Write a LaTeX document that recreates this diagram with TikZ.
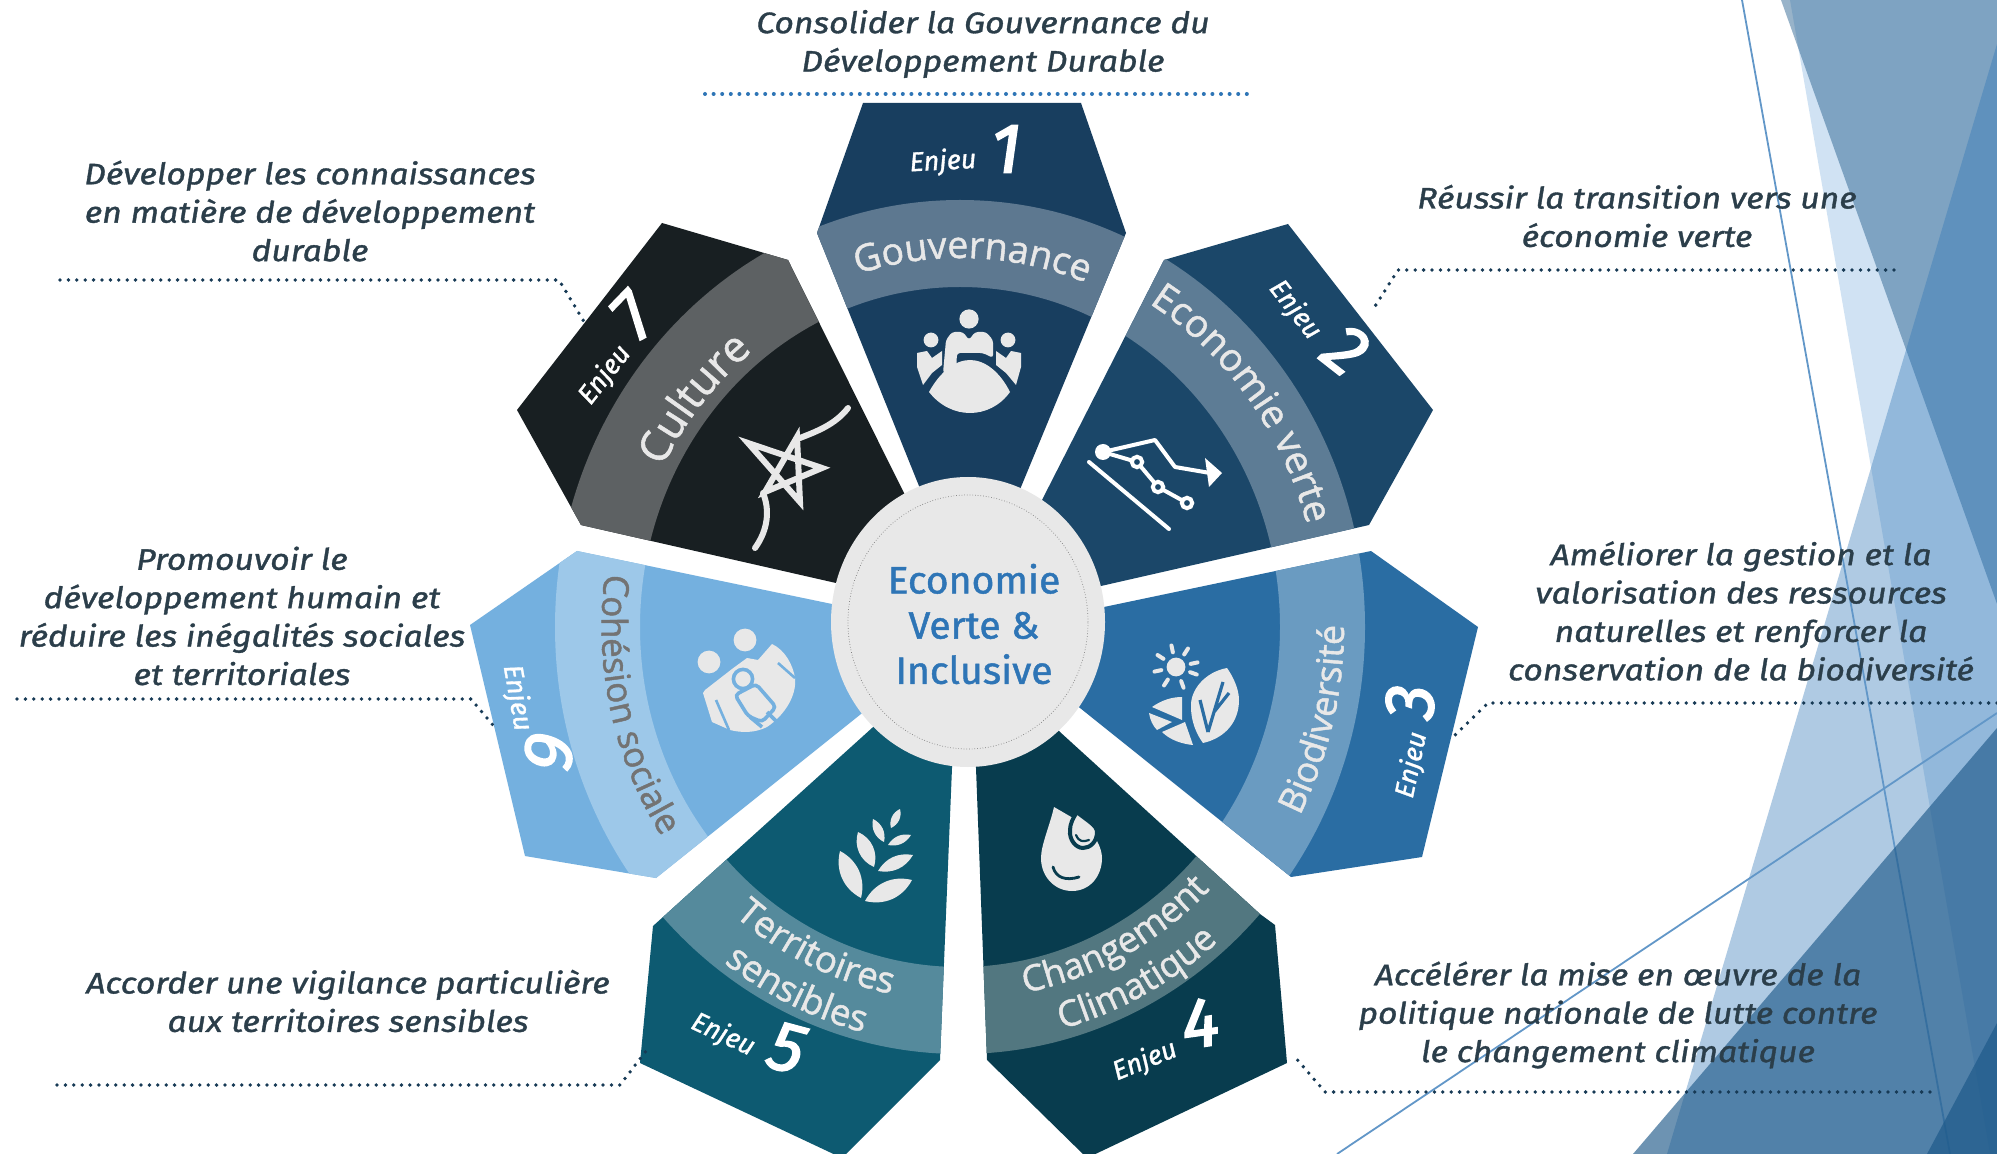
\documentclass[tikz,border=0pt]{standalone}
\usepackage{fontspec}
\usetikzlibrary{shapes.geometric,decorations.text,calc}
\setmainfont{Open Sans}
\newfontfamily\capfam[FakeStretch=1.14,FakeBold=1.2]{Fira Sans}
\newfontfamily\enjfam[FakeBold=1.2]{Fira Sans}
\newfontfamily\numfam[FakeBold=2.5]{Fira Sans}
\newfontfamily\bandfam[FakeBold=1.3]{Open Sans}
\newfontfamily\midfam[FakeBold=1.2,FakeStretch=1.03]{Fira Sans}
\definecolor{pa}{HTML}{183E5F}\definecolor{ba}{HTML}{5D7890}
\definecolor{pb}{HTML}{1B4769}\definecolor{bb}{HTML}{5D7C95}
\definecolor{pc}{HTML}{2A6DA3}\definecolor{bc}{HTML}{6A9BC1}
\definecolor{pd}{HTML}{083C4E}\definecolor{bd}{HTML}{527780}
\definecolor{pe}{HTML}{0D5A71}\definecolor{be}{HTML}{558A9C}
\definecolor{pf}{HTML}{74B0DF}\definecolor{bf}{HTML}{9DC8E9}
\definecolor{pg}{HTML}{181F22}\definecolor{bg}{HTML}{5D6163}
\definecolor{lite}{HTML}{E8E8E8}
\definecolor{captxt}{HTML}{2B3E4A}
\definecolor{leadblue}{HTML}{2E75B6}
\definecolor{leaddark}{HTML}{173A55}
\newcommand{\petal}[3]{%
  \fill[#2] #1;
  \begin{scope}\clip #1;
  \fill[#3,even odd rule] (C) ellipse[x radius=202.5pt,y radius=213.5pt] (C) ellipse[x radius=160pt,y radius=170pt];
  \end{scope}}
\newcommand{\arctext}[6]{% text,start,end,t,size,colour
  \pgfmathsetmacro\rxv{#4*0.474}\pgfmathsetmacro\ryv{#4*0.5}%
  \path[decorate,decoration={text along path,text align=center,text={|\fontsize{#5}{#5}\bandfam\color{#6}|#1}}]
    ([shift={(#2:\rxv pt and \ryv pt)}]C) arc[start angle=#2,end angle=#3,x radius=\rxv pt,y radius=\ryv pt];}
\newcommand{\leafshape}[3]{\fill[lite] #1 to[bend left=#3] #2 to[bend left=#3] #1 -- cycle;}
\tikzset{
  x=0.5pt,y=-0.5pt,
  caption/.style={font=\fontsize{14.8}{19.2}\selectfont\capfam\itshape,text=captxt,align=center,inner sep=0pt},
  enjeu/.style={font=\fontsize{13.5}{13.5}\selectfont\enjfam\itshape,text=white,inner sep=0pt},
  numeral/.style={font=\fontsize{35}{35}\selectfont\numfam\itshape,text=white,inner sep=0pt},
  leadb/.style={line width=2pt,line cap=round,dash pattern=on 0pt off 4.3pt,color=leadblue},
  leadd/.style={line width=1.9pt,line cap=round,dash pattern=on 0pt off 4.2pt,color=leaddark},
  thin line/.style={line width=0.9pt,color=leadblue!75!white},
  iconline/.style={line width=2pt,color=lite,line cap=round,line join=round}
}
\begin{document}
\begin{tikzpicture}
\clip (0,0) rectangle (1997,1154);
\fill[white] (0,0) rectangle (1997,1154);
\coordinate (C) at (960,627);
% background shapes
\fill[color={rgb,255:red,189;green,215;blue,238},opacity=.7] (1790,0) -- (1997,0) -- (1997,1154) -- (1990,1154) -- cycle;
\fill[color={rgb,255:red,31;green,90;blue,138},opacity=.46] (1781,0) -- (1997,0) -- (1997,604) -- cycle;
\fill[color=leadblue,opacity=.38] (1997,44) -- (1997,1154) -- (1667,1154) -- cycle;
\coordinate (la) at (1742,0); \coordinate (lb) at (1950,1154);
\coordinate (lc) at (1997,713); \coordinate (ld) at (1337,1154);
\draw[thin line] (la) -- (lb);
\draw[thin line] (lc) -- (ld);
\fill[color={rgb,255:red,31;green,90;blue,138},opacity=.65] (1997,728) -- (1997,1154) -- (1633,1154) -- cycle;
\fill[color={rgb,255:red,31;green,90;blue,138},opacity=.7] (1997,1023) -- (1997,1154) -- (1927,1154) -- cycle;
% petals
\petal{(863,103) -- (1081,103) -- (1126,233) -- (1021,487) -- (969,611) -- (919,486) -- (817,233) -- cycle}{pa}{ba}
\petal{(1164,260) -- (1288,224) -- (1433,410) -- (1369,525) -- (1101,586) -- (968,622) -- (1042,500) -- cycle}{pb}{bb}
\petal{(1104,607) -- (1371,551) -- (1478,627) -- (1422,857) -- (1291,877) -- (1080,708) -- (968,622) -- cycle}{pc}{bc}
\petal{(976,768) -- (987,1060) -- (1087,1158) -- (1287,1063) -- (1275,925) -- (1260,914) -- (1060,732) -- (968,640) -- cycle}{pd}{bd}
\petal{(952,768) -- (940,1060) -- (842,1158) -- (640,1063) -- (653,926) -- (663,917) -- (872,728) -- (968,640) -- cycle}{pe}{be}
\petal{(832,604) -- (577,551) -- (470,625) -- (525,856) -- (656,878) -- (861,714) -- (968,622) -- cycle}{pf}{bf}
\petal{(662,223) -- (788,260) -- (904,493) -- (968,622) -- (836,583) -- (581,525) -- (517,410) -- cycle}{pg}{bg}
% band texts
\arctext{Gouvernance}{128}{48}{369}{18.7}{lite}
\arctext{Economie verte}{81}{-6}{380}{19.2}{lite}
\arctext{Biodiversité}{-53}{25}{405}{18}{lite}
\arctext{Changement}{-100}{-25}{372}{18}{lite}
\arctext{Climatique}{-100}{-25}{416}{18}{lite}
\arctext{Territoires}{-150}{-80}{374}{18.3}{lite}
\arctext{sensibles}{-150}{-80}{418}{18.3}{lite}
\arctext{Cohésion sociale}{150}{236}{378}{17.6}{gray!90!black}
\arctext{Culture}{185}{95}{352}{21.5}{lite}
% centre
\node[ellipse,fill=lite,minimum width=137pt,minimum height=145pt,inner sep=0pt] (hub) at (968,622) {};
\draw[line width=0.35pt,color=black!45!lite,densely dotted] (968,622) ellipse[x radius=60pt,y radius=63.5pt];
\node[font=\fontsize{19}{22.6}\selectfont\midfam,text=leadblue,align=center,inner sep=0pt] (hubtxt) at (974,624) {Economie\\Verte \&\\Inclusive};
% enjeu labels
\node[enjeu,rotate=3] (e1) at (943,162) {Enjeu};
\node[numeral] (n1) at (1006,149) {1};
\node[enjeu,rotate=-52] (e2) at (1295,310) {Enjeu};
\node[numeral,rotate=-38] (n2) at (1346,350) {2};
\node[enjeu,rotate=78] (e3) at (1412,765) {Enjeu};
\node[numeral,rotate=88] (n3) at (1410,702) {3};
\node[enjeu,rotate=22] (e4) at (1145,1061) {Enjeu};
\node[numeral,rotate=8] (n4) at (1200,1023) {4};
\node[enjeu,rotate=-25] (e5) at (723,1035) {Enjeu};
\node[numeral,rotate=-15] (n5) at (787,1048) {5};
\node[enjeu,rotate=-80] (e6) at (517,698) {Enjeu};
\node[numeral,rotate=-100] (n6) at (549,751) {6};
\node[enjeu,rotate=52] (e7) at (605,375) {Enjeu};
\node[numeral,rotate=46] (n7) at (633,316) {7};
% captions
\node[caption] (c1) at (983,44) {Consolider la Gouvernance du\\Développement Durable};
\node[caption] (c2) at (1637,216) {Réussir la transition vers une\\économie verte};
\node[caption] (c3) at (1741,611) {Améliorer la gestion et la\\valorisation des ressources\\naturelles et renforcer la\\conservation de la biodiversité};
\node[caption] (c4) at (1618,1015) {Accélérer la mise en œuvre de la\\politique nationale de lutte contre\\le changement climatique};
\node[caption] (c5) at (348,1001) {Accorder une vigilance particulière\\aux territoires sensibles};
\node[caption] (c6) at (242,616) {Promouvoir le\\développement humain et\\réduire les inégalités sociales\\et territoriales};
\node[caption] (c7) at (310,211) {Développer les connaissances\\en matière de développement\\durable};
% leaders
\coordinate (a1) at (705,94); \coordinate (a2) at (1249,94);
\draw[leadb] (a1) -- (a2);
\coordinate (b1) at (1894,270); \coordinate (b2) at (1398,270); \coordinate (b3) at (1372,311);
\draw[leadd] (b1) -- (b2) -- (b3);
\coordinate (d1) at (1997,703); \coordinate (d2) at (1488,703); \coordinate (d3) at (1452,738);
\draw[leadd] (d1) -- (d2) -- (d3);
\coordinate (f1) at (1930,1092); \coordinate (f2) at (1325,1092); \coordinate (f3) at (1295,1057);
\draw[leadd] (f1) -- (f2) -- (f3);
\coordinate (g1) at (57,1085); \coordinate (g2) at (620,1085); \coordinate (g3) at (646,1051);
\draw[leadd] (g1) -- (g2) -- (g3);
\coordinate (h1) at (17,699); \coordinate (h2) at (471,699); \coordinate (h3) at (497,730);
\draw[leadd] (h1) -- (h2) -- (h3);
\coordinate (i1) at (60,280); \coordinate (i2) at (559,280); \coordinate (i3) at (586,325);
\draw[leadd] (i1) -- (i2) -- (i3);
% icon 1: meeting
\fill[lite] (969,319) circle[radius=4.8pt] (931,340) circle[radius=3.7pt] (1008,340) circle[radius=3.7pt];
\fill[lite,rounded corners=1.5pt] (943,373) -- (946,340) -- (952,332) -- (963,332) -- (969,340) -- (975,332) -- (986,332) -- (993,340) -- (993,358) -- (983,353) -- (957,353) -- (956,373) -- (950,377) -- cycle;
\fill[lite] (917,353) -- (927,351) -- (932,358) -- (942,351) -- (942,365) -- (932,373) -- (923,385) -- (917,367) -- cycle;
\fill[lite] (1021,353) -- (1011,351) -- (1006,358) -- (996,351) -- (996,365) -- (1006,373) -- (1016,385) -- (1021,367) -- cycle;
\fill[lite] (929,392) .. controls (940,372) and (955,360) .. (970,360) .. controls (985,360) and (1000,372) .. (1010,392) .. controls (1000,406) and (985,413) .. (970,413) .. controls (955,413) and (940,406) .. (929,392) -- cycle;
% icon 2: chart
\draw[iconline,color=white] (1089,462) -- (1169,529);
\draw[iconline,color=white] (1103,452) -- (1155,440) -- (1175,467) -- (1210,473);
\fill[white] (1222,473) -- (1205,458) -- (1209,487) -- cycle;
\draw[iconline,color=white] (1103,452) -- (1137,462) -- (1158,487) -- (1187,503);
\fill[white] (1103,452) circle[radius=4pt];
\filldraw[fill=pb,draw=white,line width=2pt] (1137,462) circle[radius=2.6pt] (1158,487) circle[radius=2.6pt] (1187,503) circle[radius=2.6pt];
% icon 3: sun and leaf
\fill[lite] (1176,667) circle[radius=4.7pt];
\foreach \r in {12,57,102,147,192,237,290,340}{\draw[line width=2pt,line cap=round,color=lite] ($(1176,667)+(\r:7.5pt)$) -- ($(1176,667)+(\r:11pt)$);}
\fill[lite] (1227,668) .. controls (1205,672) and (1190,690) .. (1191,707) .. controls (1191,722) and (1197,735) .. (1203,743) .. controls (1225,738) and (1239,722) .. (1239,700) .. controls (1239,688) and (1232,675) .. (1227,668) -- cycle;
\draw[line width=1.6pt,color=pc] (1208,732) -- (1223,682) (1208,732) -- (1200,700) (1214,712) -- (1229,693);
\fill[lite] (1152,707) .. controls (1162,700) and (1172,697) .. (1182,697) -- (1182,720) -- cycle;
\fill[lite] (1149,713) -- (1172,722) -- (1157,730) .. controls (1153,726) and (1150,720) .. (1149,713) -- cycle;
\fill[lite] (1162,732) -- (1185,722) -- (1193,745) .. controls (1182,744) and (1170,740) .. (1162,732) -- cycle;
% icon 4: drops
\fill[lite] (1054,807) .. controls (1050,825) and (1041,845) .. (1041,858) .. controls (1041,877) and (1055,891) .. (1072,891) .. controls (1090,891) and (1102,876) .. (1102,858) .. controls (1102,848) and (1095,835) .. (1085,825) -- cycle;
\filldraw[fill=lite,draw=pd,line width=2pt] (1077,812) .. controls (1086,820) and (1097,825) .. (1097,832) .. controls (1097,842) and (1090,848) .. (1083,848) .. controls (1076,848) and (1069,840) .. (1070,830) .. controls (1070,824) and (1073,818) .. (1077,812) -- cycle;
\draw[line width=1.4pt,line cap=round,color=pd] (1053,867) .. controls (1056,878) and (1066,881) .. (1079,877);
\draw[line width=1.1pt,line cap=round,color=pd] (1076,835) .. controls (1079,842) and (1083,842) .. (1089,840);
% icon 5: wheat
\leafshape{(840,851)}{(861,898)}{-38}
\leafshape{(865,901)}{(912,880)}{38}
\leafshape{(858,832)}{(874,867)}{-42}
\leafshape{(878,871)}{(913,855)}{35}
\leafshape{(873,819)}{(884,842)}{-38}
\leafshape{(888,845)}{(911,835)}{35}
\leafshape{(900,809)}{(891,828)}{40}
% icon 6: family
\fill[lite] (745,640) circle[radius=5.7pt] (709,662) circle[radius=5.7pt];
\fill[lite] (705,690) -- (732,669) -- (747,658) -- (758,660) -- (772,644) .. controls (785,650) and (793,665) .. (795,678) .. controls (797,695) and (785,715) .. (767,727) .. controls (755,733) and (742,733) .. (730,730) -- (712,722) -- (703,693) -- cycle;
\draw[line width=1.3pt,color=pf] (716,700) -- (729,730) (778,663) -- (795,678);
\filldraw[fill=lite,draw=pf,line width=1.8pt,rounded corners=2pt] (735,695) -- (756,684) -- (776,707) -- (762,722) -- (748,716) -- cycle;
\draw[line width=1.8pt,color=pf] (750,717) -- (762,727) (767,712) -- (777,722);
\filldraw[fill=lite,draw=pf,line width=1.8pt] (743,679) circle[radius=4.8pt];
% icon 7: star
\draw[iconline,line width=3pt] (848,408) .. controls (835,425) and (815,432) .. (800,438);
\draw[iconline,line width=3pt,line join=miter] (797,437) -- (800,502) -- (748,443) -- (822,468) -- (765,492) -- cycle;
\draw[iconline,line width=3pt] (763,493) .. controls (770,510) and (768,530) .. (755,548);
\end{tikzpicture}
\end{document}
